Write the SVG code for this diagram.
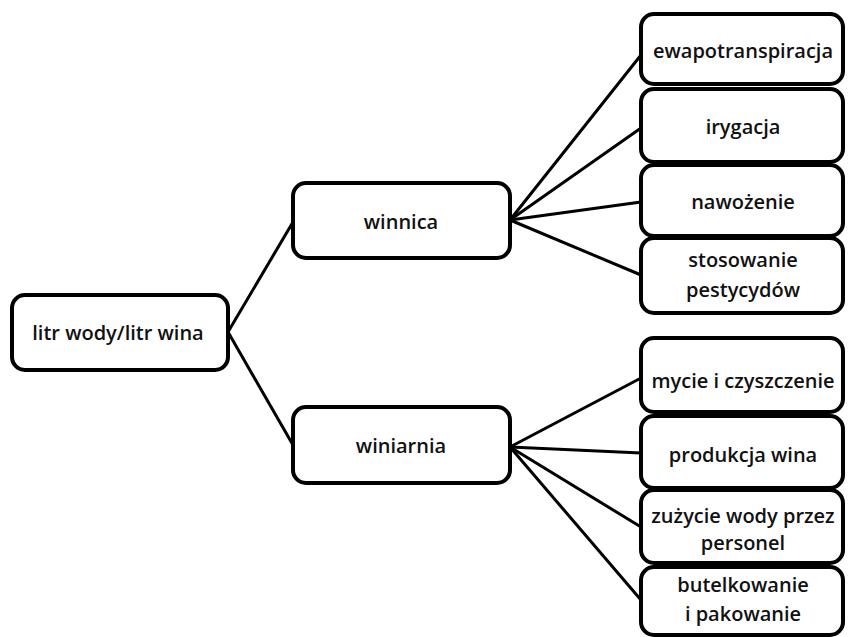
<svg xmlns="http://www.w3.org/2000/svg" width="848" height="637" viewBox="0 0 848 637">
<style>
.box{fill:#fff;stroke:#000;stroke-width:4}
.t{font-family:"Open Sans","Liberation Sans",sans-serif;font-weight:600;font-size:20px;fill:#111;text-anchor:middle;dominant-baseline:central}
.c{stroke:#000;stroke-width:3;fill:none;stroke-linecap:round}
</style>
<rect width="848" height="637" fill="#fff"/>
<g id="connectors">
<line class="c" x1="228" y1="332" x2="293" y2="222"/>
<line class="c" x1="228" y1="332" x2="293" y2="445"/>
<line class="c" x1="510" y1="220" x2="641" y2="55"/>
<line class="c" x1="510" y1="220" x2="641" y2="128"/>
<line class="c" x1="510" y1="220" x2="641" y2="202"/>
<line class="c" x1="510" y1="220" x2="641" y2="275"/>
<line class="c" x1="510" y1="447" x2="641" y2="378"/>
<line class="c" x1="510" y1="447" x2="641" y2="453"/>
<line class="c" x1="510" y1="447" x2="641" y2="527"/>
<line class="c" x1="510" y1="447" x2="641" y2="600"/>
</g>
<g id="root"><rect class="box" x="12" y="295" width="216" height="75" rx="13"/><text class="t" x="118" y="332">litr wody/litr wina</text></g>
<g id="winnica"><rect class="box" x="293" y="183" width="217" height="75" rx="13"/><text class="t" x="401" y="221">winnica</text></g>
<g id="winiarnia"><rect class="box" x="293" y="407" width="217" height="76" rx="13"/><text class="t" x="401" y="445">winiarnia</text></g>
<g id="ewapotranspiracja"><rect class="box" x="641" y="14" width="202" height="70" rx="13"/><text class="t" x="743" y="50">ewapotranspiracja</text></g>
<g id="irygacja"><rect class="box" x="641" y="89" width="202" height="73" rx="13"/><text class="t" x="743" y="126">irygacja</text></g>
<g id="nawozenie"><rect class="box" x="641" y="165" width="202" height="71" rx="13"/><text class="t" x="743" y="201">nawożenie</text></g>
<g id="stosowanie"><rect class="box" x="641" y="238" width="202" height="75" rx="13"/><text class="t" x="743" y="259">stosowanie</text><text class="t" x="743" y="289">pestycydów</text></g>
<g id="mycie"><rect class="box" x="641" y="338" width="202" height="74" rx="13"/><text class="t" x="743" y="380">mycie i czyszczenie</text></g>
<g id="produkcja"><rect class="box" x="641" y="416" width="202" height="72" rx="13"/><text class="t" x="743" y="454">produkcja wina</text></g>
<g id="zuzycie"><rect class="box" x="641" y="490" width="202" height="73" rx="13"/><text class="t" x="743" y="515">zużycie wody przez</text><text class="t" x="743" y="542">personel</text></g>
<g id="butelkowanie"><rect class="box" x="641" y="567" width="202" height="68" rx="13"/><text class="t" x="743" y="584">butelkowanie</text><text class="t" x="743" y="613">i pakowanie</text></g>
</svg>
